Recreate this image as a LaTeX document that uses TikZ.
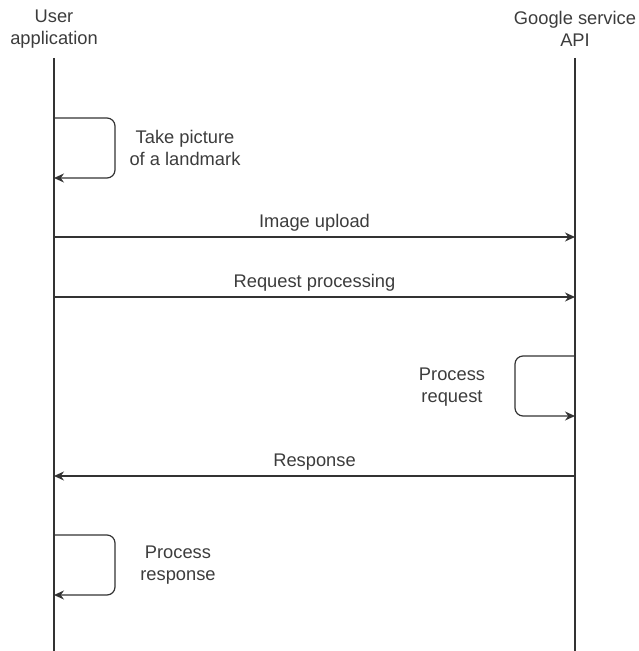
\documentclass[tikz,border=0pt]{standalone}
\usepackage{fontspec}
\setmainfont{Liberation Sans}
\usepackage{xcolor}
\usetikzlibrary{arrows.meta,positioning,calc}
\definecolor{linegray}{HTML}{333333}
\definecolor{textgray}{HTML}{3C3C3C}

\begin{document}
\begin{tikzpicture}[x=1bp, y=-1bp,
    every node/.style={align=center, text=textgray, inner sep=0pt, font=\fontsize{18.3bp}{22bp}\selectfont},
    lifeline/.style={draw=linegray, line width=2bp},
    message/.style={draw=linegray, line width=1.2bp, -{Stealth[length=10bp, width=9bp]}},
    selfcall/.style={message, rounded corners=8bp}]
    \useasboundingbox (0,0) rectangle (639,651);

    %Participants
    \node (user)   at (54,29)  {User\\application};
    \node (google) at (575,29) {Google service\\API};

    %Lifelines
    \coordinate (user_top)   at (54,58);
    \coordinate (user_bot)   at (54,651);
    \coordinate (google_top) at (575,58);
    \coordinate (google_bot) at (575,651);
    \draw[lifeline] (user_top)   -- (user_bot);
    \draw[lifeline] (google_top) -- (google_bot);

    %Message anchors
    \coordinate (take_out)     at (54,118);
    \coordinate (take_in)      at (54,178);
    \coordinate (upload_out)   at (54,237);
    \coordinate (upload_in)    at (575,237);
    \coordinate (request_out)  at (54,297);
    \coordinate (request_in)   at (575,297);
    \coordinate (process_out)  at (575,356);
    \coordinate (process_in)   at (575,416);
    \coordinate (response_out) at (575,476);
    \coordinate (response_in)  at (54,476);
    \coordinate (handle_out)   at (54,535);
    \coordinate (handle_in)    at (54,595);

    %Self calls
    \draw[selfcall] (take_out)    -- ++(61,0) -- ++(0,60) -- (take_in);
    \draw[selfcall] (process_out) -- ++(-60,0) -- ++(0,60) -- (process_in);
    \draw[selfcall] (handle_out)  -- ++(61,0) -- ++(0,60) -- (handle_in);

    % Text labels (beside self calls)
    \node (take_label)    at (185,148) {Take picture\\of a landmark};
    \node (process_label) at (452,387) {Process\\request};
    \node (handle_label)  at (178,565) {Process\\response};

    %Messages
    \draw[message] (upload_out)   -- node[above=5bp] (upload_label)   {Image upload}       (upload_in);
    \draw[message] (request_out)  -- node[above=5bp] (request_label)  {Request processing} (request_in);
    \draw[message] (response_out) -- node[above=5bp] (response_label) {Response}           (response_in);
\end{tikzpicture}
\end{document}
